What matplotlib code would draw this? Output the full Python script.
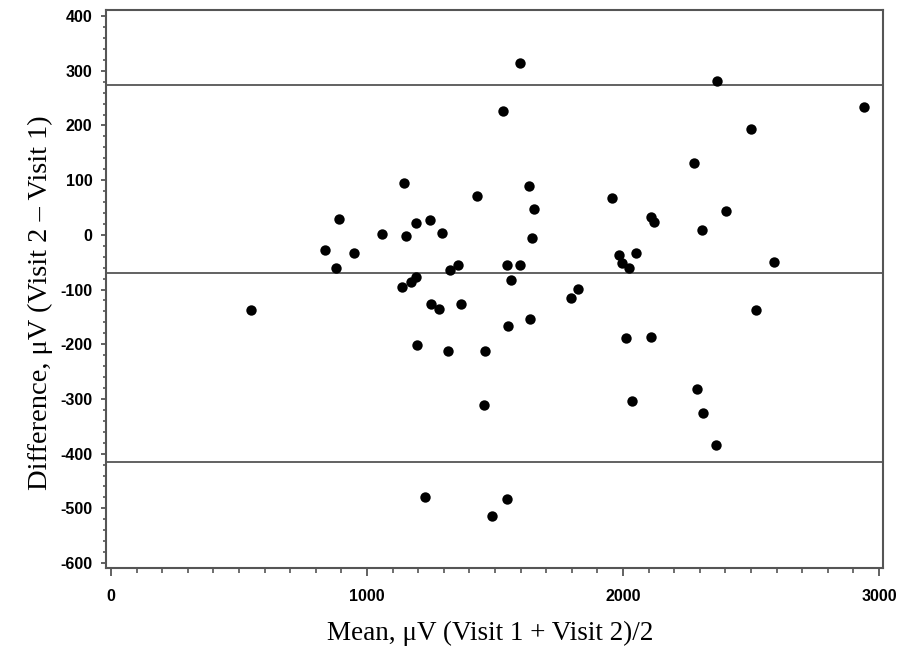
import matplotlib
matplotlib.use("Agg")
from matplotlib import pyplot as plt
from matplotlib.ticker import MultipleLocator

plt.rcParams['axes.unicode_minus'] = False

# Bland-Altman data
mean_uv = [547, 836, 880, 889, 949, 1058, 1135, 1146, 1152, 1172,
           1191, 1191, 1196, 1246, 1250, 1282, 1294, 1315, 1324, 1354,
           1367, 1428, 1225, 1462, 1458, 1488, 1533, 1546, 1546, 1562,
           1552, 1598, 1596, 1632, 1651, 1646, 1637, 1798, 1824, 1957,
           1985, 1997, 2022, 2051, 2010, 2111, 2036, 2109, 2120, 2277,
           2307, 2367, 2402, 2501, 2521, 2590, 2941, 2288, 2313, 2362]
diff_uv = [-137, -28, -61, 29, -33, 1, -95, 94, -3, -86,
           -77, 22, -202, 27, -127, -135, 4, -213, -64, -56,
           -127, 71, -480, -213, -311, -514, 226, -482, -56, -83,
           -167, 314, -56, 89, 48, -6, -153, -116, -99, 67,
           -37, -51, -60, -33, -188, -186, -304, 33, 23, 131,
           8, 281, 43, 193, -137, -49, 233, -282, -325, -384]
mean_diff = -70
upper_loa = 274
lower_loa = -415

fig = plt.figure(figsize=(9.09, 6.51), dpi=100)
ax = fig.add_axes([0.1166, 0.1275, 0.8548, 0.8571])

ax.scatter(mean_uv, diff_uv, s=56, color='black', zorder=3, linewidths=0)
for level in (upper_loa, mean_diff, lower_loa):
    ax.axhline(level, color='#555555', linewidth=1.3, zorder=2)

ax.set_xlim(-20, 3016)
ax.set_ylim(-609, 411)
ax.xaxis.set_major_locator(MultipleLocator(1000))
ax.xaxis.set_minor_locator(MultipleLocator(100))
ax.yaxis.set_major_locator(MultipleLocator(100))
ax.yaxis.set_minor_locator(MultipleLocator(20))

for side in ax.spines.values():
    side.set_color('#555555')
    side.set_linewidth(1.5)

ax.tick_params(axis='x', which='major', length=6, width=1.3, color='#555555', pad=9)
ax.tick_params(axis='x', which='minor', length=3.5, width=1.2, color='#555555')
ax.tick_params(axis='y', which='major', length=3.8, width=1.3, color='#555555', pad=6)
ax.tick_params(axis='y', which='minor', length=2, width=1.2, color='#555555')
for lab in ax.get_xticklabels() + ax.get_yticklabels():
    lab.set_fontfamily('Liberation Sans')
    lab.set_fontweight('bold')
    lab.set_fontsize(11.5)

ax.set_xlabel('Mean, \u03bcV (Visit 1 + Visit 2)/2', family='Liberation Serif',
              fontsize=19.5, labelpad=12)
ax.set_ylabel('Difference, \u03bcV (Visit 2 \u2013 Visit 1)', family='Liberation Serif',
              fontsize=20.5, labelpad=5.5)
ax.xaxis.label.set_x(0.494)
ax.yaxis.label.set_y(0.475)

plt.savefig('out.png', dpi=100)
